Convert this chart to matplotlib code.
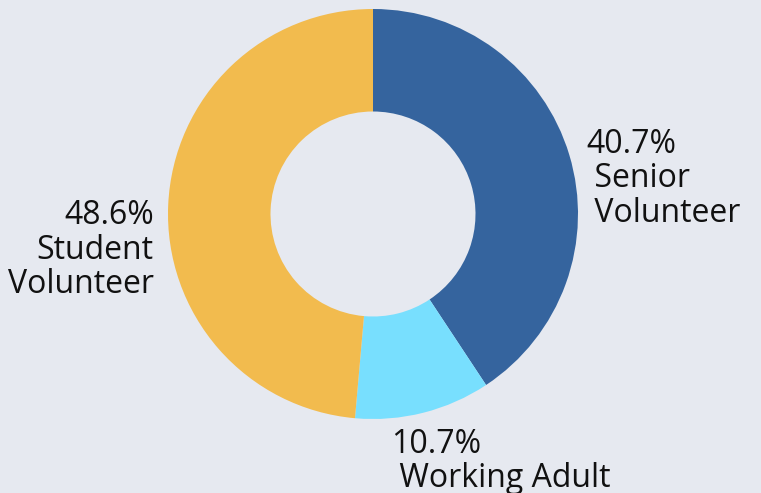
import numpy as np
import matplotlib.pyplot as plt

# volunteer mix (percent)
labels = ["Senior\nVolunteer", "Working Adult", "Student\nVolunteer"]
shares = [40.7, 10.7, 48.6]
colors = ["#35649e", "#78dffe", "#f2bb4e"]

bg = "#e6e9f0"
W, H = 761, 493
cx, cy, R = 373, H - 214, 205

fig = plt.figure(figsize=(W / 100, H / 100), dpi=100, facecolor=bg)
ax = fig.add_axes([0, 0, 1, 1])

wedges, _ = ax.pie(shares, colors=colors, startangle=90, counterclock=False,
                   center=(cx, cy), radius=R,
                   wedgeprops=dict(width=R * 0.5, edgecolor="none"))
# pie resets the limits, so set them afterwards
ax.set_xlim(0, W)
ax.set_ylim(0, H)
ax.set_aspect("equal")
ax.axis("off")

# outside labels, placed along each wedge's mid angle
nudges = [(-1, 22, "left"), (-37, 3, "left"), (4, 5, "right")]
font = dict(family=["Open Sans", "DejaVu Sans"], fontsize=23, color="#111111")
for w, lab, s, (dx, dy, ha) in zip(wedges, labels, shares, nudges):
    ang = np.deg2rad((w.theta1 + w.theta2) / 2)
    r = R * 1.09
    x = cx + r * np.cos(ang) + dx
    y = cy + r * np.sin(ang) + dy
    if ha == "left":
        txt = f"{s}%\n " + lab.replace("\n", "\n ")
    else:
        txt = f"{s}%\n" + lab
    ax.text(x, y, txt, ha=ha, va="top", multialignment=ha,
            linespacing=1.06, **font)

fig.savefig("out.png", dpi=100, facecolor=bg)
